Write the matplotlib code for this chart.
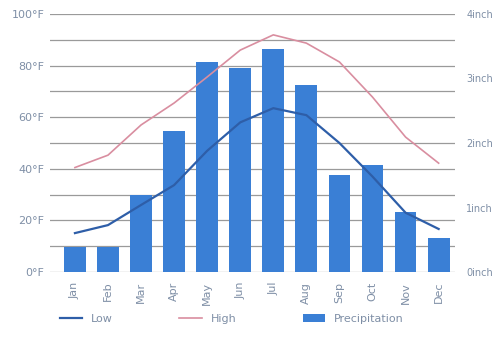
import numpy as np
import matplotlib.pyplot as plt

months = ['Jan', 'Feb', 'Mar', 'Apr', 'May', 'Jun', 'Jul', 'Aug', 'Sep', 'Oct', 'Nov', 'Dec']
precip = [0.39, 0.39, 1.19, 2.19, 3.26, 3.16, 3.46, 2.9, 1.5, 1.66, 0.93, 0.53]
high = [40.5, 45.3, 57, 65.5, 75.6, 86, 91.9, 88.7, 81.4, 67.8, 52.3, 42.2]
low = [15.1, 18.2, 26, 33.7, 47, 58, 63.5, 60.8, 50, 37, 23, 16.7]
left_ticks = [0, 20, 40, 60, 80, 100]
right_ticks = [0, 1, 2, 3, 4]

bar_col = '#3a7fd5'
low_col = '#2e5ea8'
high_col = '#d98ea0'
txt_col = '#7f8fa6'

fig = plt.figure(figsize=(4.98, 3.58), dpi=100)
ax = fig.add_axes([0.1, 0.24, 0.814, 0.721])
ax2 = ax.twinx()

x = np.arange(len(months))

# bars go on the inch axis
ax2.bar(x, precip, width=0.66, color=bar_col, zorder=2, label='Precipitation')
ax2.set_ylim(0, 4)
ax2.set_yticks(right_ticks)
ax2.set_yticklabels(['%dinch' % t for t in right_ticks], color=txt_col, fontsize=7)

ax.set_zorder(ax2.get_zorder() + 1)
ax.patch.set_visible(False)
ax.plot(x, low, color=low_col, lw=1.6, label='Low')
ax.plot(x, high, color=high_col, lw=1.2, label='High')
ax.set_ylim(0, 100)
ax.set_xlim(-0.76, 11.5)
ax.set_yticks(left_ticks)
ax.set_yticklabels(['%d°F' % t for t in left_ticks], color=txt_col, fontsize=8)
ax.set_xticks(x)
ax.set_xticklabels(months, rotation=90, color=txt_col, fontsize=8)

# grid every 10 degrees, drawn behind bars
for g in range(0, 101, 10):
    ax2.axhline(g / 25.0, color='#9a9a9a', lw=0.9, zorder=1)

for a in (ax, ax2):
    for s in a.spines.values():
        s.set_visible(False)
    a.tick_params(length=0, pad=4)
ax2.tick_params(pad=8)
ax.tick_params(axis='x', pad=7)

h1, l1 = ax.get_legend_handles_labels()
h2, l2 = ax2.get_legend_handles_labels()
fig.legend(h1 + h2, l1 + l2, loc='center left', bbox_to_anchor=(0.1, 0.11), ncol=3,
           frameon=False, fontsize=8, labelcolor=txt_col, columnspacing=6,
           handlelength=2.0)

fig.savefig('out.png', dpi=100)
